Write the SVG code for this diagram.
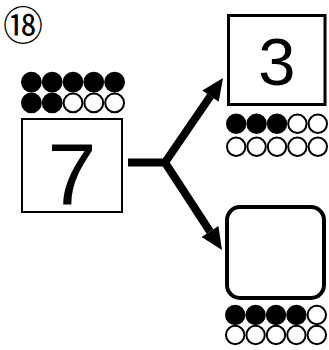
<svg xmlns="http://www.w3.org/2000/svg" width="329" height="350" viewBox="0 0 329 350">
<style>
.box{fill:#fff;stroke:#000}
.num{font-family:"Liberation Sans",Arial,sans-serif;fill:#000;text-anchor:middle}
.f{fill:#000;stroke:#000;stroke-width:2}
.e{fill:#fff;stroke:#000;stroke-width:2}
.conn{fill:none;stroke:#000;stroke-width:8;stroke-linejoin:miter}
.head{fill:#000}
</style>
<rect width="329" height="350" fill="#fff"/>
<g id="label">
<text x="23" y="39.5" font-family="'Noto Sans CJK JP','DejaVu Sans',sans-serif" font-size="40" text-anchor="middle">⑱</text>
</g>
<g id="connectors">
<path class="conn" d="M128,162.5 H166"/>
<path class="conn" d="M210.5,96 L165,162.5 L210,231.5"/>
<polygon class="head" points="223,78 218.7,101.8 202.3,90.4"/>
<polygon class="head" points="222,250 218.4,226.1 201.6,236.9"/>
</g>
<g id="node-seven">
<circle class="f" cx="31.4" cy="82.1" r="9.4"/>
<circle class="f" cx="52.2" cy="82.1" r="9.4"/>
<circle class="f" cx="73" cy="82.1" r="9.4"/>
<circle class="f" cx="93.8" cy="82.1" r="9.4"/>
<circle class="f" cx="114.6" cy="82.1" r="9.4"/>
<circle class="f" cx="31.4" cy="102.9" r="9.4"/>
<circle class="f" cx="52.2" cy="102.9" r="9.4"/>
<circle class="e" cx="73" cy="102.9" r="9.4"/>
<circle class="e" cx="93.8" cy="102.9" r="9.4"/>
<circle class="e" cx="114.6" cy="102.9" r="9.4"/>
<rect class="box" x="22" y="119" width="100" height="93" stroke-width="2"/>
<text class="num" x="72" y="205" font-size="88">7</text>
</g>
<g id="node-three">
<rect class="box" x="228.5" y="15.5" width="96.5" height="89" stroke-width="3"/>
<text class="num" x="277" y="84.5" font-size="67">3</text>
<circle class="f" cx="236.2" cy="123.8" r="9.2"/>
<circle class="f" cx="256.6" cy="123.8" r="9.2"/>
<circle class="f" cx="277" cy="123.8" r="9.2"/>
<circle class="e" cx="297.4" cy="123.8" r="9.2"/>
<circle class="e" cx="317.8" cy="123.8" r="9.2"/>
<circle class="e" cx="236.2" cy="146.8" r="9.2"/>
<circle class="e" cx="256.6" cy="146.8" r="9.2"/>
<circle class="e" cx="277" cy="146.8" r="9.2"/>
<circle class="e" cx="297.4" cy="146.8" r="9.2"/>
<circle class="e" cx="317.8" cy="146.8" r="9.2"/>
</g>
<g id="node-blank">
<rect class="box" x="227" y="207" width="97" height="91" rx="13" stroke-width="4"/>
<circle class="f" cx="235.2" cy="315" r="9.2"/>
<circle class="f" cx="255.6" cy="315" r="9.2"/>
<circle class="f" cx="276" cy="315" r="9.2"/>
<circle class="f" cx="296.4" cy="315" r="9.2"/>
<circle class="e" cx="316.8" cy="315" r="9.2"/>
<circle class="e" cx="235.2" cy="335" r="9.2"/>
<circle class="e" cx="255.6" cy="335" r="9.2"/>
<circle class="e" cx="276" cy="335" r="9.2"/>
<circle class="e" cx="296.4" cy="335" r="9.2"/>
<circle class="e" cx="316.8" cy="335" r="9.2"/>
</g>
</svg>
